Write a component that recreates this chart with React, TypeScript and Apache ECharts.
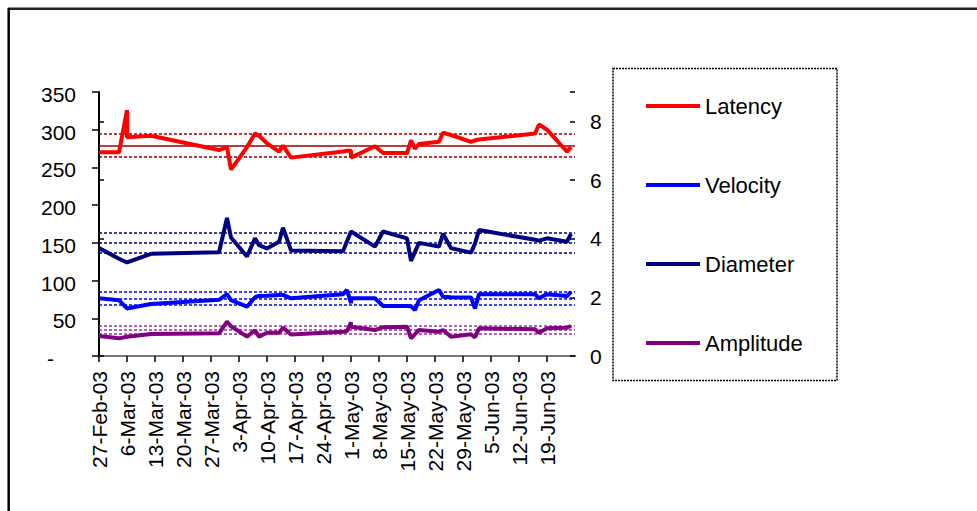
import React, { useEffect, useRef } from "react";
import * as echarts from "echarts";

const MONTHS = ["Jan", "Feb", "Mar", "Apr", "May", "Jun", "Jul", "Aug", "Sep", "Oct", "Nov", "Dec"];

// measurement dates (duplicates = two readings on the same day)
const dates = [
  "27-Feb-03", "4-Mar-03", "6-Mar-03", "6-Mar-03", "12-Mar-03", "29-Mar-03", "31-Mar-03", "1-Apr-03",
  "5-Apr-03", "7-Apr-03", "8-Apr-03", "10-Apr-03", "13-Apr-03", "14-Apr-03", "16-Apr-03", "29-Apr-03",
  "30-Apr-03", "1-May-03", "1-May-03", "7-May-03", "9-May-03", "15-May-03", "16-May-03", "17-May-03",
  "18-May-03", "23-May-03", "24-May-03", "26-May-03", "31-May-03", "1-Jun-03", "2-Jun-03", "16-Jun-03",
  "17-Jun-03", "19-Jun-03", "24-Jun-03", "25-Jun-03",
];

const latency = [270, 270, 326, 290, 292, 273, 277, 247, 277, 295, 292, 282, 271, 279, 263, 271, 272, 272, 263, 278, 269, 269, 286, 275, 281, 284, 296, 293, 284, 286, 287, 295, 307, 300, 271, 277];
const velocity = [76.5, 74, 63, 63, 69, 74.5, 82, 74, 65.4, 78, 79.5, 80, 81, 81, 76.5, 82, 87.5, 70, 76.5, 76.5, 66.3, 66.3, 66, 61, 74, 87.5, 78.6, 78, 77.5, 63, 82, 82, 76.5, 82, 79.5, 85];
const diameter = [143, 129, 124, 124, 135.5, 137.5, 183, 157, 132, 156, 147, 142.5, 151.5, 170, 140, 139, 152, 165, 165, 145, 165, 156, 126, 138, 150, 145, 162, 143, 137, 149, 167, 154, 153, 156, 151.5, 162];
const amplitude = [26.5, 23.4, 25.6, 25.6, 29.2, 30, 45.5, 39.5, 25.6, 34, 25.6, 30.9, 30.9, 37.6, 28.5, 32, 33, 44.6, 38.9, 34.5, 38, 38.9, 23.4, 29, 34.5, 32.3, 34.5, 25.6, 28.7, 24.8, 36.7, 35.3, 30.9, 36.7, 37.6, 39.8];

// reference lines: [upper, mean, lower]
const latencyRef = [294.3, 278.4, 264.8];
const velocityRef = [85, 76.5, 68.5];
const diameterRef = [164, 150.7, 137.5];
const amplitudeRef = [39.8, 35, 29.6];

const xTickLabels = [
  "27-Feb-03", "6-Mar-03", "13-Mar-03", "20-Mar-03", "27-Mar-03", "3-Apr-03", "10-Apr-03", "17-Apr-03",
  "24-Apr-03", "1-May-03", "8-May-03", "15-May-03", "22-May-03", "29-May-03", "5-Jun-03", "12-Jun-03", "19-Jun-03",
];
const leftTicks = [0, 50, 100, 150, 200, 250, 300, 350];
const rightTicks = [0, 2, 4, 6, 8];

const BASE = Date.UTC(2003, 1, 27);
const dayOf = (s: string) => {
  const [d, m, y] = s.split("-");
  return Math.round((Date.UTC(2000 + Number(y), MONTHS.indexOf(m), Number(d)) - BASE) / 86400000);
};

const FONT = "'Liberation Sans', Arial, sans-serif";

export default function App() {
  const ref = useRef<HTMLDivElement>(null);
  useEffect(() => {
    if (!ref.current) return;
    const chart = echarts.init(ref.current, undefined, { renderer: "svg" });
    const days = dates.map(dayOf);

    const mk = (name: string, vals: number[], color: string, refs: number[], refColor: string, meanSolid: boolean) => ({
      name,
      type: "line",
      xAxisIndex: 0,
      yAxisIndex: 0,
      data: days.map((d, i) => [d, vals[i]]),
      symbol: "none",
      lineStyle: { color, width: 4 },
      itemStyle: { color },
      z: 5,
      markLine: {
        silent: true,
        symbol: "none",
        label: { show: false },
        z: 2,
        data: refs.map((v, i) => ({
          yAxis: v,
          lineStyle: {
            color: refColor,
            width: 1.5,
            type: i === 1 && meanSolid ? "solid" : [3, 2],
          },
        })),
      },
    });

    chart.setOption({
      animation: false,
      textStyle: { fontFamily: FONT },
      grid: { left: 99, right: 402, top: 92, bottom: 155, containLabel: false },
      legend: {
        data: ["Latency", "Velocity", "Diameter", "Amplitude"],
        orient: "vertical",
        left: 646,
        top: 95,
        padding: 0,
        icon: "rect",
        itemWidth: 54,
        itemHeight: 4,
        itemGap: 57,
        textStyle: { fontSize: 22, color: "#000", fontFamily: FONT },
      },
      xAxis: [
        {
          type: "value",
          min: 0,
          max: 119,
          interval: 7,
          position: "bottom",
          axisLine: { lineStyle: { color: "#000", width: 2 } },
          axisTick: { show: true, length: 6, lineStyle: { color: "#000", width: 1.5 } },
          splitLine: { show: false },
          axisLabel: {
            rotate: 90,
            margin: 15,
            fontSize: 21,
            color: "#000",
            fontFamily: FONT,
            showMaxLabel: false,
            formatter: (v: number) => xTickLabels[Math.round(v / 7)] ?? "",
          },
        },
        {
          type: "value",
          min: 0,
          max: 119,
          position: "top",
          axisLine: { lineStyle: { color: "#a0a0a0", width: 1.5 } },
          axisTick: { show: false },
          axisLabel: { show: false },
          splitLine: { show: false },
        },
      ],
      yAxis: [
        {
          type: "value",
          min: leftTicks[0],
          max: leftTicks[leftTicks.length - 1],
          interval: 50,
          position: "left",
          axisLine: { show: true, lineStyle: { color: "#000", width: 2 } },
          axisTick: { show: true, length: 7, lineStyle: { color: "#000", width: 1.5 } },
          splitLine: { show: false },
          axisLabel: {
            margin: 23,
            fontSize: 21,
            color: "#000",
            fontFamily: FONT,
            padding: [5, 0, 0, 0],
            formatter: (v: number) => (v === 0 ? "{d|-}" : String(v)),
            rich: { d: { fontSize: 21, color: "#000", padding: [0, 22, 0, 0], fontFamily: FONT } },
          },
        },
        {
          type: "value",
          min: 0,
          max: 9,
          interval: 2,
          position: "right",
          axisLine: { show: true, lineStyle: { color: "#000", width: 2, type: [2, 1] } },
          axisTick: { show: true, length: 5, lineStyle: { color: "#000", width: 1.5 } },
          splitLine: { show: false },
          axisLabel: {
            margin: 15,
            fontSize: 21,
            color: "#000",
            fontFamily: FONT,
            showMaxLabel: false,
            formatter: (v: number) => (rightTicks.includes(v) ? String(v) : ""),
          },
        },
        {
          type: "value",
          min: 0,
          max: 9,
          interval: 2,
          position: "right",
          axisLine: { show: false },
          axisTick: { show: true, inside: true, length: 5, lineStyle: { color: "#000", width: 1.5 } },
          splitLine: { show: false },
          axisLabel: { show: false },
        },
      ],
      graphic: [
        { type: "line", shape: { x1: 8, y1: 8.7, x2: 977, y2: 8.7 }, style: { stroke: "#222", lineWidth: 2.5 } },
        { type: "line", shape: { x1: 8.7, y1: 8, x2: 8.7, y2: 511 }, style: { stroke: "#000", lineWidth: 2.5 } },
        {
          type: "rect",
          shape: { x: 613, y: 68.5, width: 224, height: 312 },
          style: { fill: "none", stroke: "#000", lineWidth: 1.5, lineDash: [2, 1] },
          z: -1,
        },
      ],
      series: [
        mk("Latency", latency, "#ff0000", latencyRef, "#990000", true),
        mk("Velocity", velocity, "#0000ff", velocityRef, "#0000ff", false),
        mk("Diameter", diameter, "#000080", diameterRef, "#000080", false),
        mk("Amplitude", amplitude, "#800080", amplitudeRef, "#993399", false),
      ],
    });
    return () => chart.dispose();
  }, []);

  return (
    <div
      ref={ref}
      style={{ position: "absolute", left: 0, top: 0, width: 977, height: 511, background: "#fff" }}
    />
  );
}
